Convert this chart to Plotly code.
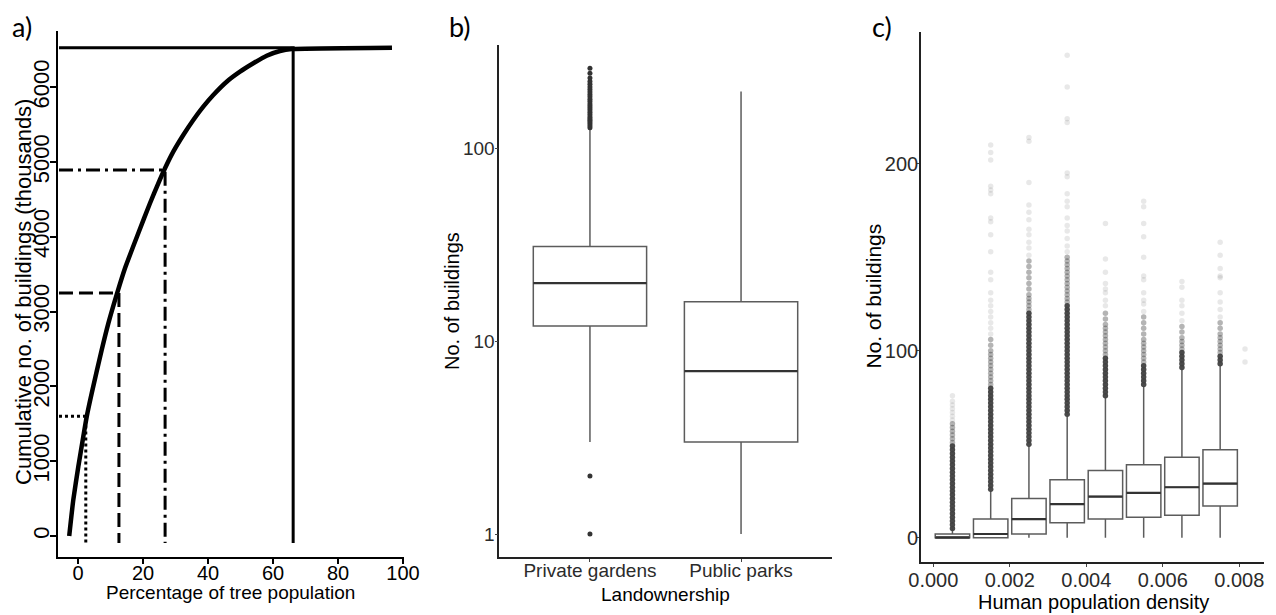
import plotly.graph_objects as go

# ---------------- data ----------------
# Panel a: cumulative buildings (thousands) vs percentage of tree population
a_pct = [-2.7, -1.45, 0.1, 1.63, 2.68, 4.22, 7.29, 9.32, 12.09, 14.46, 18.55, 22.15,
         24.71, 26.77, 29.32, 32.4, 35.48, 38.55, 41.63, 45.75, 49.85, 53.94, 58.06,
         62.15, 65.75, 96.6]
a_bld = [0, 481, 927, 1328, 1595, 1908, 2487, 2840, 3254, 3580, 4048, 4449,
         4715, 4917, 5139, 5362, 5563, 5741, 5897, 6075, 6209, 6321, 6423,
         6486, 6512, 6530]
a_quart_pct = [2.4, 12.6, 26.8, 66.2]          # % of trees
a_quart_bld = [1600, 3250, 4895, 6530]          # buildings reached
a_xticks = [0, 20, 40, 60, 80, 100]
a_yticks = [0, 1000, 2000, 3000, 4000, 5000, 6000]

# Panel b: buildings by landownership (log scale)
b_groups = ["Private gardens", "Public parks"]
b_q1 = [12, 3]
b_median = [20, 7]
b_q3 = [31, 16]
b_lower = [3, 1]
b_upper = [128, 197]
b_out_low = [1, 2]
b_out_high = [128, 131, 134, 137, 140, 143, 146, 150, 154, 158, 162, 166, 170, 175,
              180, 185, 190, 196, 202, 208, 215, 222, 232, 245, 260]
b_yticks = [1, 10, 100]

# Panel c: buildings by human population density bins
c_bins = [0.0005, 0.0015, 0.0025, 0.0035, 0.0045, 0.0055, 0.0065, 0.0075]
c_q1 = [0, 0, 2, 8, 10, 11, 12, 17]
c_median = [0, 2, 10, 18, 22, 24, 27, 29]
c_q3 = [2, 10, 21, 31, 36, 39, 43, 47]
c_lower = [0, 0, 0, 0, 0, 0, 0, 0]
c_upper = [5, 25, 49, 65, 75, 81, 90, 92]
c_out_bins = [0.0005, 0.0015, 0.0025, 0.0035, 0.0045, 0.0055, 0.0065, 0.0075, 0.00815]
c_out_dense = [
    [5, 7, 9, 11, 13, 15, 17, 19, 21, 23, 25, 27, 29, 31, 33, 35, 37, 39, 41, 43, 45, 47, 49],
    [26, 28, 30, 32, 34, 36, 38, 40, 42, 44, 46, 48, 50, 52, 54, 56, 58, 60, 62, 64, 66,
     68, 70, 72, 74, 76, 78, 80],
    [50, 52, 54, 56, 58, 60, 62, 64, 66, 68, 70, 72, 74, 76, 78, 80, 82, 84, 86, 88, 90,
     92, 94, 96, 98, 100, 102, 104, 106, 108, 110, 112, 114, 116, 118, 120],
    [66, 68, 70, 72, 74, 76, 78, 80, 82, 84, 86, 88, 90, 92, 94, 96, 98, 100, 102, 104,
     106, 108, 110, 112, 114, 116, 118, 120, 122, 124],
    [76, 78, 80, 82, 84, 86, 88, 90, 92, 94, 96],
    [82, 84, 86, 88, 90, 92],
    [91, 93, 95, 97, 99],
    [93, 95, 97],
    [],
]
c_out_medium = [
    [51, 53, 55, 57, 59, 61],
    [82, 84, 86, 88, 90, 92, 94, 96, 98, 100, 103, 106],
    [122, 124, 126, 128, 130, 133, 136, 139, 142, 145, 148],
    [126, 128, 130, 132, 134, 136, 138, 140, 142, 144, 146, 148, 150],
    [98, 100, 102, 104, 106, 108, 110, 112, 114, 117, 120],
    [94, 96, 98, 100, 102, 104, 106, 109, 112, 115, 118],
    [101, 103, 105, 107, 110, 113],
    [99, 101, 103, 105, 107, 109, 112, 115],
    [],
]
c_out_faint = [
    [63, 65, 67, 69, 71, 73, 76],
    [109, 112, 115, 118, 121, 124, 127, 131, 138, 142, 153, 162, 169, 171, 184, 186,
     188, 202, 206, 210],
    [151, 155, 158, 162, 165, 170, 174, 178, 190, 212, 214],
    [153, 156, 160, 164, 167, 171, 177, 180, 184, 193, 195, 222, 224, 241, 258],
    [124, 127, 131, 133, 136, 142, 149, 168],
    [121, 125, 127, 131, 138, 140, 150, 161, 168, 177, 180],
    [116, 120, 124, 127, 134, 137],
    [118, 122, 126, 131, 139, 140, 144, 151, 158],
    [94, 101],
]
c_xticks = [0, 0.002, 0.004, 0.006, 0.008]
c_yticks = [0, 100, 200]

# ---------------- figure ----------------
# page body has an 8px margin: the figure is drawn 8px smaller and offset
OFF = 8
W, H = 1276 - OFF, 615 - OFF
SANS = "Liberation Sans, Arial, sans-serif"
fig = go.Figure()

# ---- panel a ----
a_xmin, a_xmax = -6.15, 100.3
a_ymin, a_ymax = -277, 6757
a_floor = -95
a_styles = [
    dict(dash="3px,3px", width=3),
    dict(dash="14px,6px", width=3),
    dict(dash="14px,5px,3px,5px", width=3),
    dict(dash="solid", width=3),
]
for p, b, st in zip(a_quart_pct, a_quart_bld, a_styles):
    fig.add_trace(go.Scatter(
        x=[a_xmin + 0.3, p, p], y=[b, b, a_floor], mode="lines",
        line=dict(color="black", **st), xaxis="x", yaxis="y",
        showlegend=False, hoverinfo="skip"))
fig.add_trace(go.Scatter(
    x=a_pct, y=a_bld, mode="lines",
    line=dict(color="black", width=4.5, shape="spline", smoothing=0.5),
    xaxis="x", yaxis="y", showlegend=False))

# ---- panel b ----
fig.add_trace(go.Box(
    x=b_groups, q1=b_q1, median=b_median, q3=b_q3,
    lowerfence=b_lower, upperfence=b_upper, width=0.75, whiskerwidth=0,
    fillcolor="white", line=dict(color="#5c5c5c", width=1.5),
    boxpoints=False, xaxis="x2", yaxis="y2", showlegend=False))
fig.add_trace(go.Box(
    x=b_groups, q1=b_median, median=b_median, q3=b_median,
    lowerfence=b_median, upperfence=b_median, width=0.75, whiskerwidth=0,
    fillcolor="rgba(0,0,0,0)", line=dict(color="#333333", width=2.2),
    boxpoints=False, xaxis="x2", yaxis="y2", showlegend=False))
b_out_y = b_out_low + b_out_high
fig.add_trace(go.Scatter(
    x=[b_groups[0]] * len(b_out_y), y=b_out_y, mode="markers",
    marker=dict(color="#333333", size=5), xaxis="x2", yaxis="y2", showlegend=False))

# ---- panel c ----
def flat(bins, groups):
    xs, ys = [], []
    for bx, g in zip(bins, groups):
        xs += [bx] * len(g)
        ys += g
    return xs, ys

for groups, col in [(c_out_faint, "rgba(0,0,0,0.09)"),
                    (c_out_medium, "rgba(40,40,40,0.35)"),
                    (c_out_dense, "rgba(64,64,64,0.95)")]:
    xs, ys = flat(c_out_bins, groups)
    fig.add_trace(go.Scatter(
        x=xs, y=ys, mode="markers", marker=dict(color=col, size=5.5),
        xaxis="x3", yaxis="y3", showlegend=False, hoverinfo="skip"))

fig.add_trace(go.Box(
    x=c_bins, q1=c_q1, median=c_median, q3=c_q3,
    lowerfence=c_lower, upperfence=c_upper, width=0.0009, whiskerwidth=0,
    fillcolor="white", line=dict(color="#5c5c5c", width=1.5),
    boxpoints=False, xaxis="x3", yaxis="y3", showlegend=False))
fig.add_trace(go.Box(
    x=c_bins, q1=c_median, median=c_median, q3=c_median,
    lowerfence=c_median, upperfence=c_median, width=0.0009, whiskerwidth=0,
    fillcolor="rgba(0,0,0,0)", line=dict(color="#333333", width=2.2),
    boxpoints=False, xaxis="x3", yaxis="y3", showlegend=False))


def xdom(a, b):
    return [(a - OFF) / W, (b - OFF) / W]


def ydom(top, bottom):
    return [1 - (bottom - OFF) / H, 1 - (top - OFF) / H]


common = dict(showgrid=False, zeroline=False, showline=True, ticks="outside",
              automargin=False)
txt = "#2b2b2b"

fig.update_layout(
    width=W, height=H, margin=dict(l=0, r=0, t=0, b=0),
    paper_bgcolor="white", plot_bgcolor="white", template="none",
    showlegend=False, boxmode="overlay",
    xaxis=dict(domain=xdom(58, 404), range=[a_xmin, a_xmax], tickvals=a_xticks,
               linecolor="black", linewidth=2, ticklen=5, tickwidth=1.5,
               tickcolor="black", tickfont=dict(family=SANS, size=20, color="black"),
               ticklabelstandoff=-8, anchor="y", **common),
    yaxis=dict(domain=ydom(30.7, 556.7), range=[a_ymin, a_ymax], tickvals=a_yticks,
               tickangle=-90, linecolor="black", linewidth=2, ticklen=6, tickwidth=1.5,
               tickcolor="black", tickfont=dict(family=SANS, size=22, color="black"),
               ticklabelstandoff=-8, anchor="x", **common),
    xaxis2=dict(domain=xdom(499.3, 831.7), type="category", categoryorder="array",
                categoryarray=b_groups, range=[-0.6, 1.6],
                linecolor="#222", linewidth=1.6, ticklen=3, tickwidth=1,
                tickcolor="#444", tickfont=dict(family=SANS, size=19, color=txt),
                ticklabelstandoff=-8, anchor="y2", **common),
    yaxis2=dict(domain=ydom(45, 557), type="log", range=[-0.119, 2.536],
                tickvals=b_yticks, ticktext=[str(v) for v in b_yticks],
                linecolor="#222", linewidth=1.6, ticklen=3, tickwidth=1,
                tickcolor="#444", tickfont=dict(family=SANS, size=19, color=txt),
                ticklabelstandoff=-4, anchor="x2", **common),
    xaxis3=dict(domain=xdom(921, 1264.3), range=[-0.000322, 0.008654],
                tickvals=c_xticks, tickformat=".3f",
                linecolor="#222", linewidth=1.6, ticklen=3, tickwidth=1,
                tickcolor="#444", tickfont=dict(family=SANS, size=20, color=txt),
                ticklabelstandoff=-4, anchor="y3", **common),
    yaxis3=dict(domain=ydom(31.7, 561.7), range=[-12.8, 270.6], tickvals=c_yticks,
                linecolor="#222", linewidth=1.6, ticklen=3, tickwidth=1,
                tickcolor="#444", tickfont=dict(family=SANS, size=20, color=txt),
                ticklabelstandoff=-6, anchor="x3", **common),
)


def label(text, cx, cy, size, family=SANS, angle=0, color="black"):
    fig.add_annotation(text=text, x=(cx - OFF) / W, y=1 - (cy - OFF) / H,
                       xref="paper", yref="paper",
                       xanchor="center", yanchor="middle", showarrow=False,
                       textangle=angle, font=dict(family=family, size=size, color=color))


LETTER = "Lato, Open Sans, sans-serif"
label("a)", 22, 26, 27, LETTER)
label("b)", 460, 26, 27, LETTER)
label("c)", 882, 26, 27, LETTER)

label("Cumulative no. of buildings (thousands)", 23, 292, 22, angle=-90)
label("Percentage of tree population", 230, 592, 19)
label("No. of buildings", 452, 301, 20, angle=-90)
label("Landownership", 665.5, 594, 19)
label("No. of buildings", 872.5, 296, 21, angle=-90)
label("Human population density", 1093, 602, 20)

fig.write_html("out.html")
